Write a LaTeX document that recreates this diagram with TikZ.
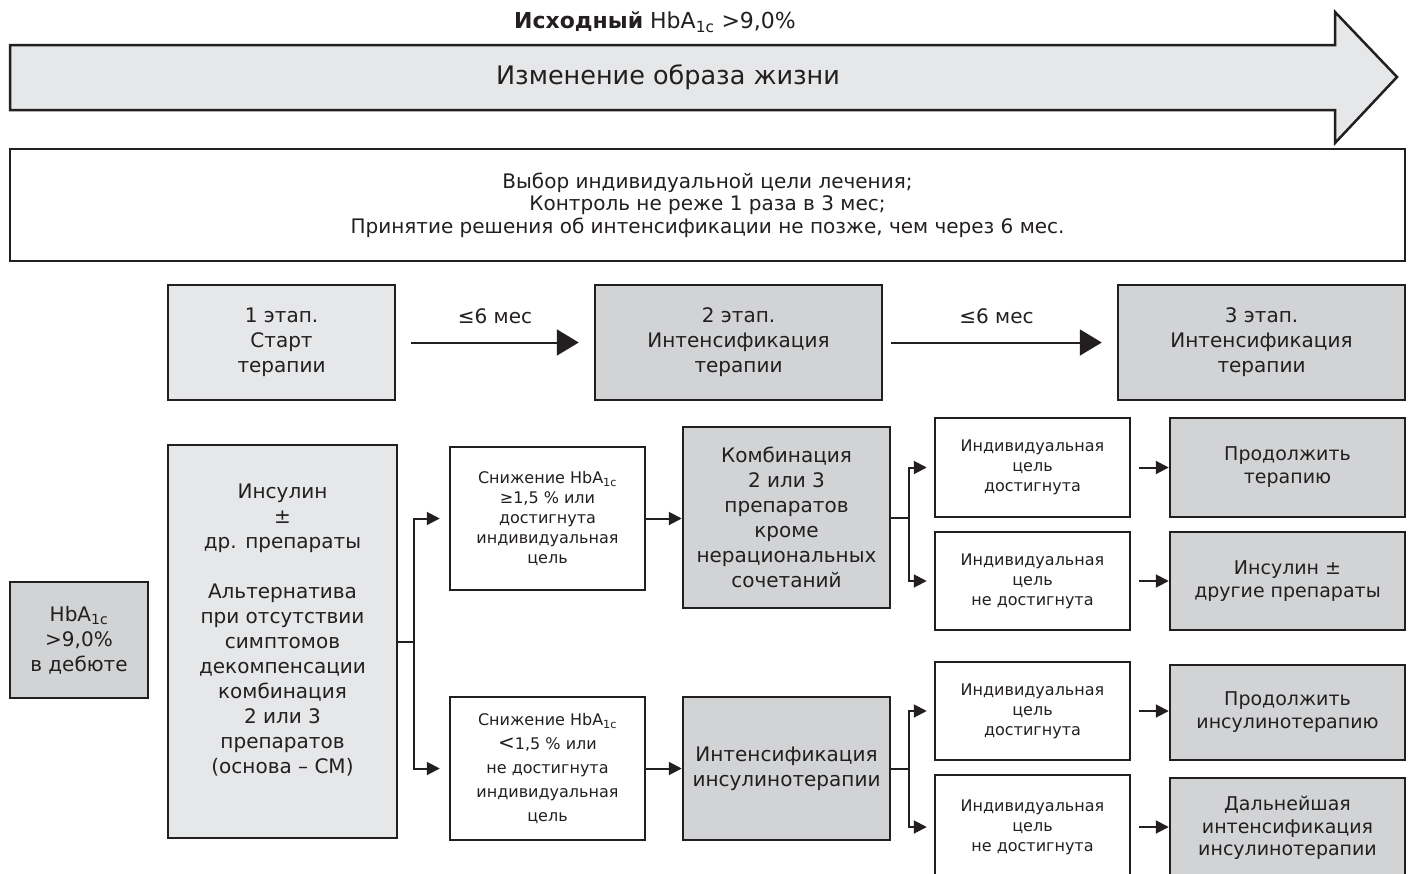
\documentclass[tikz,border=0pt]{standalone}
\usepackage{fontspec}
\setmainfont{DejaVu Sans}
\usetikzlibrary{arrows.meta}

\definecolor{lightfill}{HTML}{E6E7E8}
\definecolor{darkfill}{HTML}{D1D3D4}
\definecolor{ink}{HTML}{231F20}

\begin{document}
\begin{tikzpicture}[x=1pt,y=-1pt,
	box/.style={draw=ink,line width=2.5pt,align=center,inner sep=0pt,text=ink},
	lightbox/.style={box,fill=lightfill,font=\fontsize{20}{25}\selectfont},
	darkbox/.style={box,fill=darkfill,font=\fontsize{20}{25}\selectfont},
	whitebox/.style={box,fill=white,font=\fontsize{16}{20}\selectfont},
	flow/.style={draw=ink,line width=2pt,-{Triangle[length=13pt,width=13pt]}},
	bigflow/.style={draw=ink,line width=2pt,-{Triangle[length=22pt,width=26pt]}},
	]

	\useasboundingbox (0,0) rectangle (1413,873);
	\fill[white] (0,0) rectangle (1413,873);
	\clip (0,0) rectangle (1413,873);

	% Lifestyle arrow
	\filldraw[fill=lightfill,draw=ink,line width=2.5pt,line join=miter]
		(10,45) -- (1335,45) -- (1335,12) -- (1397,77) -- (1335,143) -- (1335,110) -- (10,110) -- cycle;
	\node (start) at (655,22) [text=ink,font=\fontsize{22}{26}\selectfont] {\textbf{Исходный} HbA\textsubscript{1c} >9,0\%};
	\node (life) at (668,77) [text=ink,font=\fontsize{25.5}{30}\selectfont] {Изменение образа жизни};

	% Rules
	\node (rules) at (707.5,205) [box,fill=white,minimum width=1395,minimum height=112,font=\fontsize{20}{22.5}\selectfont]
		{Выбор индивидуальной цели лечения;\\Контроль не реже 1 раза в 3 мес;\\Принятие решения об интенсификации не позже, чем через 6 мес.};

	% Stages
	\node (stage1) at (281.5,342.5) [lightbox,minimum width=227,minimum height=115] {1 этап.\\Старт\\терапии};
	\node (stage2) at (738.5,342.5) [darkbox,minimum width=287,minimum height=115] {2 этап.\\Интенсификация\\терапии};
	\node (stage3) at (1261.5,342.5) [darkbox,minimum width=287,minimum height=115] {3 этап.\\Интенсификация\\терапии};

	\draw[bigflow] ([xshift=15pt]stage1.east) -- ([xshift=-15pt]stage2.west)
		node[midway,above=14pt,text=ink,font=\fontsize{20}{24}\selectfont] {≤6 мес};
	\draw[bigflow] ([xshift=8pt]stage2.east) -- ([xshift=-15pt]stage3.west)
		node[midway,above=14pt,text=ink,font=\fontsize{20}{24}\selectfont] {≤6 мес};

	% Start
	\node (debut) at (79,640) [darkbox,minimum width=138,minimum height=116] {HbA\textsubscript{1c}\\>9,0\%\\в дебюте};
	\node (ins) at (282.5,641.5) [lightbox,minimum width=229,minimum height=393]
		{Инсулин\\±\\др. препараты\\[25pt]Альтернатива\\при отсутствии\\симптомов\\декомпенсации\\комбинация\\2 или 3\\препаратов\\(основа – СМ)\\ ~};

	% Decline of HbA1c
	\node (dec1) at (547.5,518.5) [whitebox,minimum width=195,minimum height=143]
		{Снижение HbA\textsubscript{1c}\\≥1,5 \% или\\достигнута\\индивидуальная\\цель};
	\node (dec2) at (547.5,768.5) [whitebox,minimum width=195,minimum height=143,font=\fontsize{16}{24}\selectfont]
		{Снижение HbA\textsubscript{1c}\\{\fontsize{20}{24}\selectfont <}1,5 \% или\\не достигнута\\индивидуальная\\цель};

	\coordinate (fork1) at ([xshift=16pt]ins.east);
	\draw[flow] (ins.east) -- (fork1) |- ([xshift=-9pt]dec1.west);
	\draw[flow] (fork1) |- ([xshift=-9pt]dec2.west);

	\node (comb) at (786.5,517.5) [darkbox,minimum width=207,minimum height=181]
		{Комбинация\\2 или 3\\препаратов\\кроме\\нерациональных\\сочетаний};
	\node (intens) at (786.5,768.5) [darkbox,minimum width=207,minimum height=143]
		{Интенсификация\\инсулинотерапии};

	\draw[flow] (dec1.east) -- (dec1.east -| comb.west);
	\draw[flow] (dec2.east) -- (dec2.east -| intens.west);

	% Goals
	\node (goal1) at (1032.5,467.5) [whitebox,minimum width=195,minimum height=99] {Индивидуальная\\цель\\достигнута};
	\node (goal2) at (1032.5,581) [whitebox,minimum width=195,minimum height=98] {Индивидуальная\\цель\\не достигнута};
	\node (goal3) at (1032.5,711) [whitebox,minimum width=195,minimum height=98] {Индивидуальная\\цель\\достигнута};
	\node (goal4) at (1032.5,827) [whitebox,minimum width=195,minimum height=104] {Индивидуальная\\цель\\не достигнута};

	\coordinate (fork2) at ([xshift=18pt]comb.east);
	\draw[flow] (comb.east) -- (fork2) |- ([xshift=-7pt]goal1.west);
	\draw[flow] (fork2) |- ([xshift=-7pt]goal2.west);
	\coordinate (fork3) at ([xshift=18pt]intens.east);
	\draw[flow] (intens.east) -- (fork3) |- ([xshift=-7pt]goal3.west);
	\draw[flow] (fork3) |- ([xshift=-7pt]goal4.west);

	% Results
	\node (res1) at (1287.5,467.5) [darkbox,minimum width=235,minimum height=99,font=\fontsize{19}{23}\selectfont] {Продолжить\\терапию};
	\node (res2) at (1287.5,581) [darkbox,minimum width=235,minimum height=98,font=\fontsize{19}{23}\selectfont] {Инсулин ±\\другие препараты};
	\node (res3) at (1287.5,712.5) [darkbox,minimum width=235,minimum height=95,font=\fontsize{19}{23}\selectfont] {Продолжить\\инсулинотерапию};
	\node (res4) at (1287.5,828) [darkbox,minimum width=235,minimum height=100,font=\fontsize{19}{22.5}\selectfont] {Дальнейшая\\интенсификация\\инсулинотерапии};

	\draw[flow] ([xshift=8pt]goal1.east) -- (goal1.east -| res1.west);
	\draw[flow] ([xshift=8pt]goal2.east) -- (goal2.east -| res2.west);
	\draw[flow] ([xshift=8pt]goal3.east) -- (goal3.east -| res3.west);
	\draw[flow] ([xshift=8pt]goal4.east) -- (goal4.east -| res4.west);

\end{tikzpicture}
\end{document}
